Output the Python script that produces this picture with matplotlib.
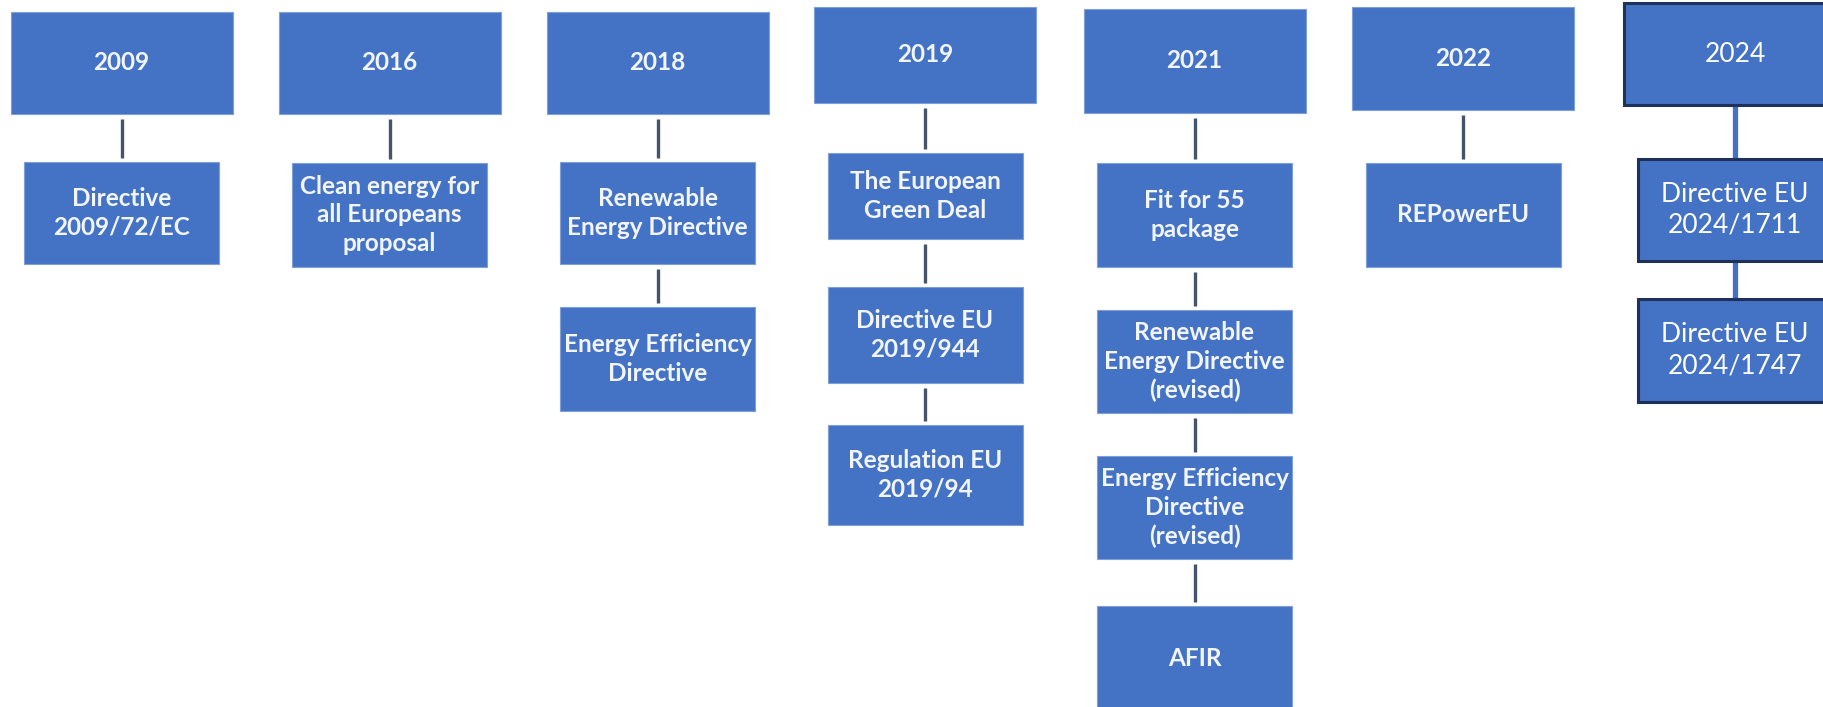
import matplotlib.pyplot as plt
from matplotlib.patches import Rectangle

# timeline content
years = ["2009", "2016", "2018", "2019", "2021", "2022", "2024"]
items_2009 = ["Directive\n2009/72/EC"]
items_2016 = ["Clean energy for\nall Europeans\nproposal"]
items_2018 = ["Renewable\nEnergy Directive", "Energy Efficiency\nDirective"]
items_2019 = ["The European\nGreen Deal", "Directive EU\n2019/944", "Regulation EU\n2019/94"]
items_2021 = ["Fit for 55\npackage", "Renewable\nEnergy Directive\n(revised)",
              "Energy Efficiency\nDirective\n(revised)", "AFIR"]
items_2022 = ["REPowerEU"]
items_2024 = ["Directive EU\n2024/1711", "Directive EU\n2024/1747"]
items = [items_2009, items_2016, items_2018, items_2019, items_2021, items_2022, items_2024]

# layout (pixels, y downwards)
col_x = [121.5, 389.5, 657.5, 925, 1194.5, 1463, 1735]
year_y = [(12, 114), (12, 114), (12, 114), (7, 103), (9, 113), (7, 110), (3, 105)]
child_y = [
    [(162, 264)],
    [(163, 267)],
    [(162, 264), (307, 411)],
    [(153, 239), (287, 383), (425, 525)],
    [(163, 267), (310, 413), (456, 559), (606, 712)],
    [(163, 267)],
    [(159, 261), (299, 402)],
]
year_w = 222
child_w = 195

fill = "#4472C4"
W, H = 1823, 707
fig = plt.figure(figsize=(W / 100, H / 100), dpi=100)
ax = fig.add_axes([0, 0, 1, 1])
ax.set_xlim(0, W)
ax.set_ylim(H, 0)
ax.axis("off")


def box(cx, y0, y1, w, text, new_style):
    if new_style:
        r = Rectangle((cx - w / 2, y0), w, y1 - y0, facecolor=fill,
                      edgecolor="#1F3158", linewidth=2.2, zorder=3)
        ax.text(cx, (y0 + y1) / 2, text, color="white", ha="center", va="center",
                fontsize=19, family="Lato", linespacing=1.3, zorder=4)
    else:
        r = Rectangle((cx - w / 2, y0), w, y1 - y0, facecolor=fill,
                      edgecolor="#7F9FD8", linewidth=0.8, zorder=3)
        ax.text(cx, (y0 + y1) / 2, text, color="#F2F5FB", ha="center", va="center",
                fontsize=17.5, family="Lato", fontweight="bold", linespacing=1.3,
                zorder=4)
    ax.add_patch(r)


for i, year in enumerate(years):
    new_style = year == "2024"
    cx = col_x[i]
    y0, y1 = year_y[i]
    box(cx, y0, y1, year_w, year, new_style)
    prev_bottom = y1
    for label, (c0, c1) in zip(items[i], child_y[i]):
        box(cx, c0, c1, child_w, label, new_style)
        if new_style:
            ax.plot([cx, cx], [prev_bottom, c0], color=fill, lw=3.8,
                    solid_capstyle="butt", zorder=2)
        else:
            ax.plot([cx, cx], [prev_bottom + 5, c0 - 4], color="#44546A", lw=2.4,
                    solid_capstyle="butt", zorder=2)
        prev_bottom = c1

fig.savefig("out.png", dpi=100)
